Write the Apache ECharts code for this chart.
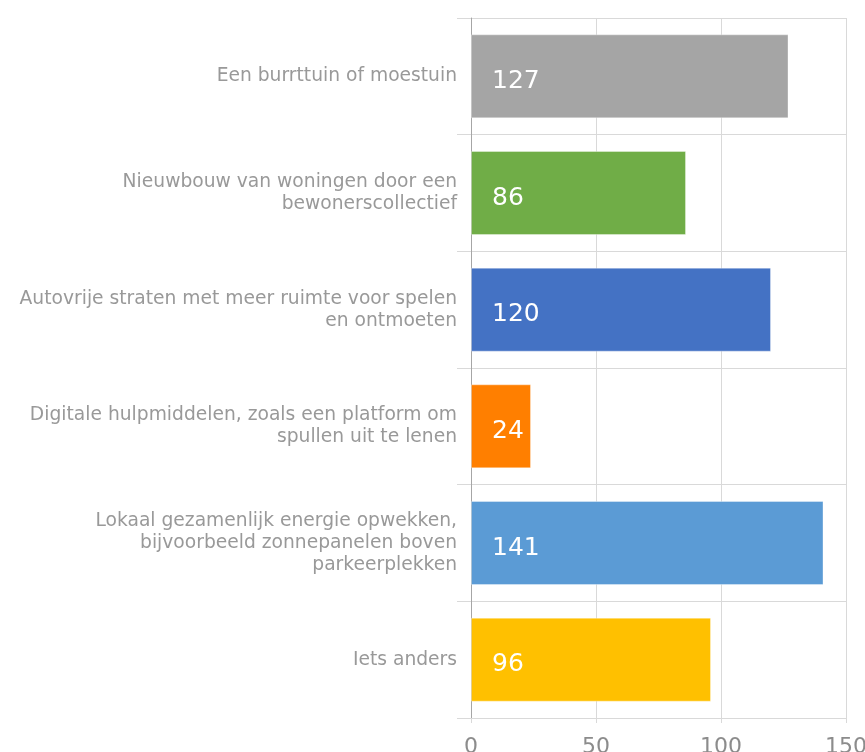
<!DOCTYPE html>
<html>
<head>
<meta charset="utf-8">
<script src="https://cdn.jsdelivr.net/npm/echarts@6/dist/echarts.min.js"></script>
<style>
  html, body { margin: 0; padding: 0; background: #fff; }
  #chart { width: 865px; height: 752px; }
</style>
</head>
<body>
<div id="chart"></div>
<script>
const categories = [
  "Een burrttuin of moestuin",
  "Nieuwbouw van woningen door een\nbewonerscollectief",
  "Autovrije straten met meer ruimte voor spelen\nen ontmoeten",
  "Digitale hulpmiddelen, zoals een platform om\nspullen uit te lenen",
  "Lokaal gezamenlijk energie opwekken,\nbijvoorbeeld zonnepanelen boven\nparkeerplekken",
  "Iets anders"
];
const values = [127, 86, 120, 24, 141, 96];
const barColors = ["#A5A5A5", "#70AD47", "#4472C4", "#FF7F00", "#5B9BD5", "#FFC000"];
const xTicks = [0, 50, 100, 150];

const font = "DejaVu Sans";
const myChart = echarts.init(document.getElementById("chart"));
const option = {
  animation: false,
  textStyle: { fontFamily: font },
  grid: { left: 471, right: 19, top: 18, bottom: 34, outerBoundsMode: "none", containLabel: false },
  xAxis: {
    type: "value",
    min: xTicks[0],
    max: xTicks[xTicks.length - 1],
    interval: 50,
    axisLine: { show: true, lineStyle: { color: "#d9d9d9" } },
    axisTick: { show: true, length: 5, lineStyle: { color: "#d9d9d9" } },
    splitLine: { show: true, lineStyle: { color: "#d9d9d9" } },
    axisLabel: { color: "#8c8c8c", fontSize: 22, margin: 18, fontFamily: font }
  },
  yAxis: {
    type: "category",
    inverse: true,
    data: categories,
    axisLine: { show: true, lineStyle: { color: "#a6a6a6" } },
    axisTick: { show: true, length: 14, lineStyle: { color: "#d9d9d9" } },
    splitLine: { show: true, lineStyle: { color: "#d9d9d9" } },
    axisLabel: {
      color: "#999999",
      fontSize: 18.7,
      fontFamily: font,
      lineHeight: 22,
      margin: 14,
      align: "right"
    }
  },
  series: [{
    type: "bar",
    data: values.map((v, i) => ({
      value: v,
      itemStyle: { color: barColors[i] }
    })),
    barWidth: "72%",
    itemStyle: { borderColor: "rgba(255,255,255,0.35)", borderWidth: 1 },
    label: {
      show: true,
      position: "insideLeft",
      distance: 21,
      color: "#fff",
      fontSize: 25,
      fontFamily: font,
      offset: [0, 5]
    }
  }]
};
myChart.setOption(option);
</script>
</body>
</html>
